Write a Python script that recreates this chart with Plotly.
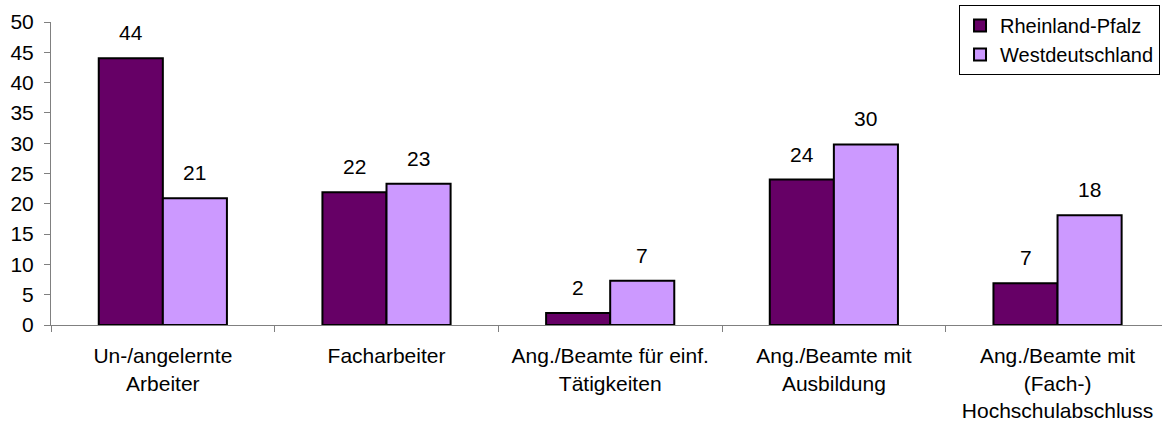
import plotly.graph_objects as go

categories = ["Un-/angelernte<br>Arbeiter", "Facharbeiter", "Ang./Beamte für einf.<br>Tätigkeiten",
              "Ang./Beamte mit<br>Ausbildung", "Ang./Beamte mit<br>(Fach-)<br>Hochschulabschluss"]
series_names = ["Rheinland-Pfalz", "Westdeutschland"]
rp_values = [44, 21.9, 2, 24, 6.9]
wd_values = [20.9, 23.3, 7.3, 29.8, 18.1]
colors = ["#660066", "#CC99FF"]
y_ticks = [0, 5, 10, 15, 20, 25, 30, 35, 40, 45, 50]

FONT = "Liberation Sans, Arial, sans-serif"
FS = 21

fig = go.Figure()
for name, vals, col in zip(series_names, [rp_values, wd_values], colors):
    fig.add_trace(go.Bar(
        x=categories, y=vals, name=name,
        marker=dict(color=col, line=dict(color="black", width=2)),
    ))

annotations = []
for vals, shift in zip([rp_values, wd_values], [-32, 32]):
    for c, v in zip(categories, vals):
        annotations.append(dict(
            x=c, y=v, xref="x", yref="y", text=f"{v:.0f}", showarrow=False,
            xshift=shift, yshift=12, yanchor="bottom",
            font=dict(family=FONT, size=FS, color="black"),
        ))

fig.update_layout(
    width=1162, height=421,
    margin=dict(l=51, r=0, t=22, b=96, autoexpand=False),
    paper_bgcolor="white", plot_bgcolor="white",
    barmode="group", bargap=0.427, bargroupgap=0,
    font=dict(family=FONT, size=FS, color="black"),
    annotations=annotations,
    showlegend=True,
    legend=dict(
        x=0.8173, xanchor="left",
        y=1.056, yanchor="top",
        bordercolor="black", borderwidth=1, bgcolor="white",
        font=dict(family=FONT, size=20, color="black"),
        itemwidth=30, tracegroupgap=0,
    ),
    xaxis=dict(
        type="category", range=[-0.5, 4.467], automargin=False, tickangle=0,
        tickson="boundaries", ticks="outside", ticklen=6, tickcolor="#808080",
        showline=True, linecolor="#808080", linewidth=1,
        showgrid=False, zeroline=False, ticklabelstandoff=12,
        tickfont=dict(family=FONT, size=FS, color="black"),
    ),
    yaxis=dict(
        range=[0, 50], tickvals=y_ticks, ticks="outside", ticklen=6, tickcolor="#808080",
        showline=True, linecolor="#808080", linewidth=1, automargin=False,
        showgrid=False, zeroline=False, ticklabelstandoff=6,
        tickfont=dict(family=FONT, size=FS, color="black"),
    ),
)

fig.write_html("out.html", config={"displayModeBar": False},
               post_script="document.body.style.margin='0';")
